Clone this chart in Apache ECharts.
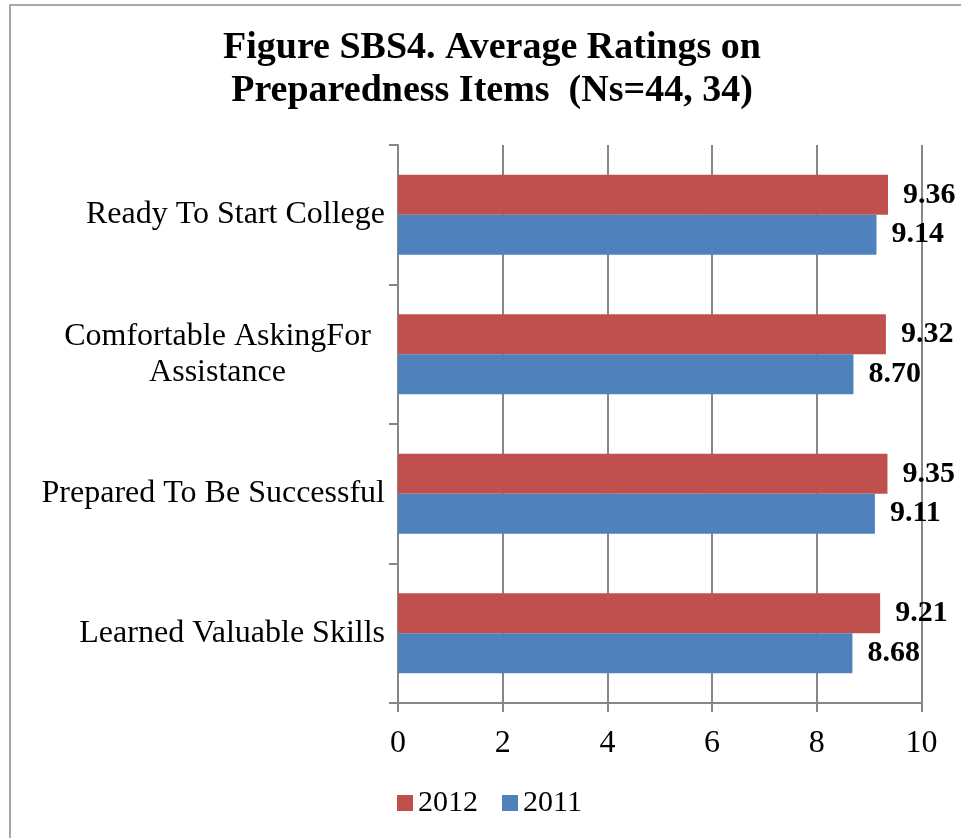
<!DOCTYPE html>
<html>
<head>
<meta charset="utf-8">
<script src="https://cdn.jsdelivr.net/npm/echarts@6/dist/echarts.min.js"></script>
<style>
  html, body { margin: 0; padding: 0; background: #fff; }
  #chart { width: 961px; height: 838px; }
</style>
</head>
<body>
<div id="chart"></div>
<script>
// Preparedness items, listed top to bottom
const categories = [
  'Ready To Start College',
  'Comfortable AskingFor\nAssistance',
  'Prepared To Be Successful',
  'Learned Valuable Skills'
];
const seriesNames = ['2012', '2011'];
const values2012 = [9.36, 9.32, 9.35, 9.21];
const values2011 = [9.14, 8.70, 9.11, 8.68];
const xTicks = { min: 0, max: 10, interval: 2 };

const SERIF = '"Liberation Serif", "Times New Roman", serif';
const GRAY = '#868686';

const chart = echarts.init(document.getElementById('chart'), null, { renderer: 'canvas' });

const labelStyle = {
  show: true,
  position: 'right',
  distance: 15,
  fontFamily: SERIF,
  fontWeight: 'bold',
  fontSize: 30,
  color: '#000',
  formatter: p => p.value.toFixed(2)
};

chart.setOption({
  animation: false,
  backgroundColor: '#fff',
  graphic: [{
    type: 'rect',
    shape: { x: 10, y: 5, width: 1000, height: 1000 },
    style: { fill: 'none', stroke: '#8c8c8c', lineWidth: 1.5 },
    silent: true
  }],
  title: {
    text: 'Figure SBS4. Average Ratings on\nPreparedness Items  (Ns=44, 34)',
    left: 487,
    top: 22,
    textAlign: 'center',
    textStyle: {
      fontFamily: SERIF,
      fontWeight: 'bold',
      fontSize: 38,
      lineHeight: 43,
      color: '#000'
    }
  },
  legend: {
    data: seriesNames,
    left: 392,
    top: 783,
    itemWidth: 16,
    itemHeight: 16,
    itemGap: 24,
    icon: 'rect',
    textStyle: { fontFamily: SERIF, fontSize: 30, color: '#000' }
  },
  grid: { left: 398, right: 39.5, top: 145, bottom: 135, containLabel: false },
  xAxis: {
    type: 'value',
    min: xTicks.min,
    max: xTicks.max,
    interval: xTicks.interval,
    axisLine: { show: true, lineStyle: { color: GRAY, width: 2 } },
    axisTick: { show: true, length: 9, lineStyle: { color: GRAY, width: 2 } },
    splitLine: { show: true, lineStyle: { color: GRAY, width: 2 } },
    axisLabel: { margin: 25, fontFamily: SERIF, fontSize: 32, color: '#000' }
  },
  yAxis: {
    type: 'category',
    inverse: true,
    data: categories,
    axisLine: { show: true, lineStyle: { color: GRAY, width: 2 } },
    axisTick: { show: true, length: 9, lineStyle: { color: GRAY, width: 2 } },
    axisLabel: {
      margin: 13,
      fontFamily: SERIF,
      fontSize: 32,
      color: '#000',
      formatter: v => v.indexOf('\n') >= 0
        ? v.split('\n').map(s => '{c|' + s + '}').join('\n')
        : v,
      rich: {
        c: { width: 335, align: 'center', fontFamily: SERIF, fontSize: 32, lineHeight: 36, color: '#000' }
      }
    }
  },
  series: [
    {
      name: seriesNames[0],
      type: 'bar',
      data: values2012,
      barGap: '0%',
      barCategoryGap: '42.7%',
      itemStyle: { color: '#C0504D' },
      label: labelStyle
    },
    {
      name: seriesNames[1],
      type: 'bar',
      data: values2011,
      barGap: '0%',
      barCategoryGap: '42.7%',
      itemStyle: { color: '#4F81BD' },
      label: labelStyle
    }
  ]
});
</script>
</body>
</html>
